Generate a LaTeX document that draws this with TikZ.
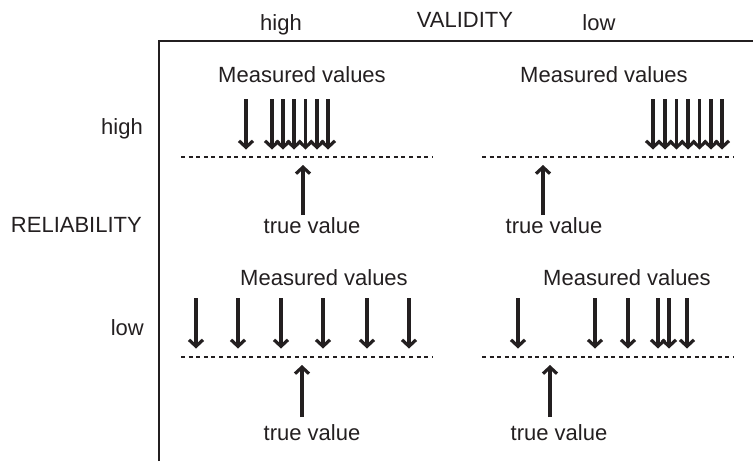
\documentclass[tikz,border=0pt]{standalone}
\usepackage{fontspec}
\setmainfont{Liberation Sans}
\usetikzlibrary{arrows.meta}
\definecolor{txt}{HTML}{231F20}
\begin{document}
\begin{tikzpicture}[x=1pt,y=-1pt,
  lbl/.style={font=\fontsize{22}{26}\selectfont, text=txt, inner sep=0pt, anchor=base},
  lblr/.style={lbl, anchor=base east},
  framelin/.style={line width=2.2pt, draw=txt},
  dashlin/.style={line width=1.8pt, dash pattern=on 4pt off 3.6pt, draw=txt},
  arr/.style={line width=3.2pt, draw=txt, -{Straight Barb[length=6.5pt,width=14pt]}},
]
\useasboundingbox (0,0) rectangle (753,461);
% frame
\coordinate (fbot) at (159,461);
\coordinate (fcorner) at (159,41);
\coordinate (fright) at (753,41);
\draw[framelin] (fbot) -- (fcorner) -- (fright);
% axis labels
\node[lbl] (vhigh) at (281,30) {high};
\node[lbl] (validity) at (465,27) {VALIDITY};
\node[lbl] (vlow) at (599,30) {low};
\node[lblr] (rhigh) at (143,134) {high};
\node[lblr] (reliab) at (142,232) {RELIABILITY};
\node[lblr] (rlow) at (144,335) {low};
% quadrant texts
\node[lbl] (m1) at (302,82) {Measured values};
\node[lbl] (m2) at (604,82) {Measured values};
\node[lbl] (m3) at (324,285) {Measured values};
\node[lbl] (m4) at (627,285) {Measured values};
\node[lbl] (t1) at (312,233) {true value};
\node[lbl] (t2) at (554,233) {true value};
\node[lbl] (t3) at (312,440) {true value};
\node[lbl] (t4) at (559,440) {true value};
% dashed lines
\coordinate (d1l) at (181,157); \coordinate (d1r) at (432,157);
\coordinate (d2l) at (482,157); \coordinate (d2r) at (733,157);
\coordinate (d3l) at (181,357); \coordinate (d3r) at (432,357);
\coordinate (d4l) at (482,357); \coordinate (d4r) at (733,357);
\draw[dashlin] (d1l) -- (d1r);
\draw[dashlin] (d2l) -- (d2r);
\draw[dashlin] (d3l) -- (d3r);
\draw[dashlin] (d4l) -- (d4r);
% measured value arrows
\foreach \x [count=\i] in {246,272,283,294,305.5,317,328}{
  \coordinate (pa\i) at (\x,99); \coordinate (qa\i) at (\x,149.5);
  \draw[arr] (pa\i) -- (qa\i);
}
\foreach \x [count=\i] in {653,665,676.5,688,699.5,711,722}{
  \coordinate (pb\i) at (\x,99); \coordinate (qb\i) at (\x,149.5);
  \draw[arr] (pb\i) -- (qb\i);
}
\foreach \x [count=\i] in {196,238,281,323,367,409}{
  \coordinate (pc\i) at (\x,298); \coordinate (qc\i) at (\x,348.5);
  \draw[arr] (pc\i) -- (qc\i);
}
\foreach \x [count=\i] in {518,595,628,658,669,687}{
  \coordinate (pd\i) at (\x,298); \coordinate (qd\i) at (\x,348.5);
  \draw[arr] (pd\i) -- (qd\i);
}
% true value arrows
\coordinate (u1s) at (303,215); \coordinate (u1e) at (303,165);
\coordinate (u2s) at (543,215); \coordinate (u2e) at (543,165);
\coordinate (u3s) at (302,417); \coordinate (u3e) at (302,365);
\coordinate (u4s) at (550,417); \coordinate (u4e) at (550,365);
\draw[arr] (u1s) -- (u1e);
\draw[arr] (u2s) -- (u2e);
\draw[arr] (u3s) -- (u3e);
\draw[arr] (u4s) -- (u4e);
\end{tikzpicture}
\end{document}
